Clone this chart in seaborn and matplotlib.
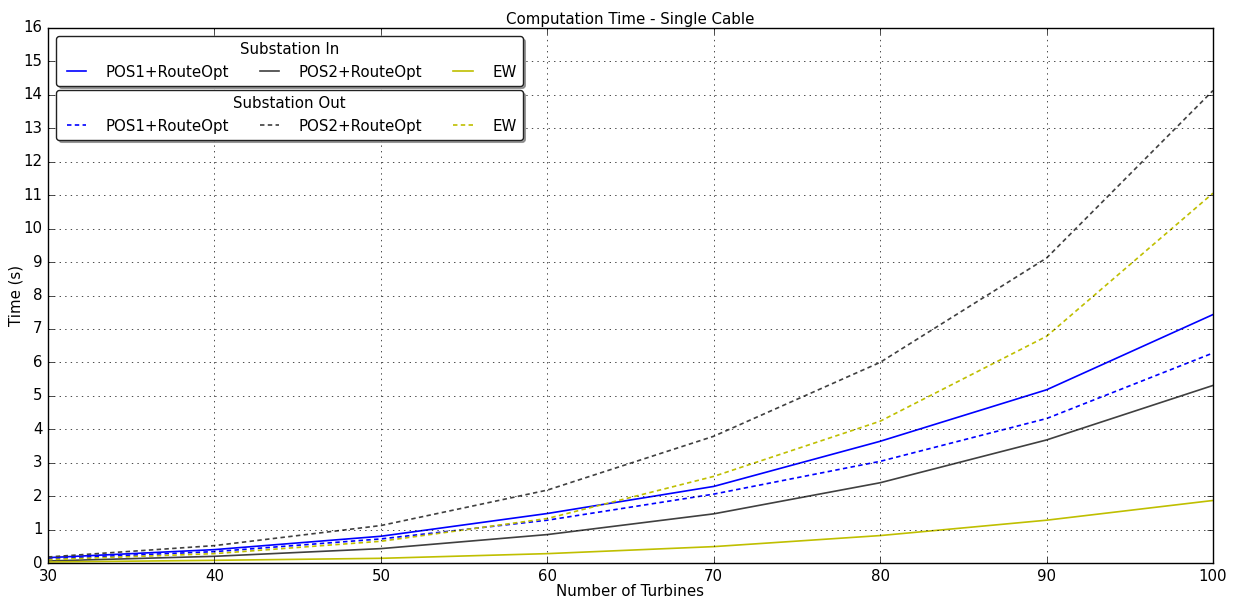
import matplotlib
matplotlib.use("Agg")
import matplotlib.pyplot as plt
import seaborn as sns
import pandas as pd

turbines = [30, 40, 50, 60, 70, 80, 90, 100]

pos1_in = [0.16, 0.40, 0.80, 1.48, 2.29, 3.64, 5.18, 7.43]
pos2_in = [0.06, 0.20, 0.43, 0.85, 1.47, 2.40, 3.68, 5.31]
ew_in = [0.03, 0.08, 0.14, 0.28, 0.49, 0.82, 1.28, 1.87]

pos1_out = [0.13, 0.34, 0.72, 1.28, 2.06, 3.04, 4.32, 6.28]
pos2_out = [0.18, 0.52, 1.12, 2.18, 3.79, 6.00, 9.12, 14.13]
ew_out = [0.10, 0.28, 0.65, 1.33, 2.59, 4.24, 6.78, 11.06]

method_labels = ["POS1+RouteOpt", "POS2+RouteOpt", "EW"]
method_colors = ["#0000ff", "#404040", "#bfbf00"]

FS = 10.8
LW = 1.2
DASH = (3.2, 2.4)

plt.style.use("classic")
plt.rcParams["font.family"] = ["DejaVu Sans"]

fig = plt.figure(figsize=(12.36, 5.98), dpi=100, facecolor="white")
ax = fig.add_axes([48 / 1236, 35 / 598, 1165 / 1236, 535 / 598])
ax.set_facecolor("white")

handles_in = []
for vals, color in zip([pos1_in, pos2_in, ew_in], method_colors):
    df = pd.DataFrame({"n": turbines, "t": vals})
    sns.lineplot(data=df, x="n", y="t", color=color, linestyle="-", linewidth=LW, ax=ax)
    handles_in.append(ax.lines[-1])

handles_out = []
for vals, color in zip([pos1_out, pos2_out, ew_out], method_colors):
    df = pd.DataFrame({"n": turbines, "t": vals})
    sns.lineplot(data=df, x="n", y="t", color=color, linewidth=LW, ax=ax)
    ax.lines[-1].set_dashes(DASH)
    handles_out.append(ax.lines[-1])

ax.set_xlim(30, 100)
ax.set_ylim(0, 16)
ax.set_xticks(range(30, 101, 10))
ax.set_yticks(range(0, 17))
ax.grid(True, linestyle=":", color="black", linewidth=0.5)
ax.set_xlabel("Number of Turbines", fontsize=FS, labelpad=0)
ax.set_ylabel("Time (s)", fontsize=FS, labelpad=0)
ax.set_title("Computation Time - Single Cable", fontsize=FS, pad=3)
ax.tick_params(labelsize=FS)

legend_kw = dict(ncol=3, loc="upper left", borderaxespad=0, fontsize=FS,
                 title_fontsize=FS, shadow=True, fancybox=True,
                 columnspacing=1.75, handlelength=1.9, handletextpad=1.0)

leg_in = ax.legend(handles_in, method_labels, title="Substation In",
                   bbox_to_anchor=(0.0069, 0.985), **legend_kw)
ax.add_artist(leg_in)
leg_out = ax.legend(handles_out, method_labels, title="Substation Out",
                    bbox_to_anchor=(0.0069, 0.884), **legend_kw)
for leg in (leg_in, leg_out):
    leg.get_frame().set_edgecolor("#222222")

fig.savefig("out.png", dpi=100, facecolor="white")
